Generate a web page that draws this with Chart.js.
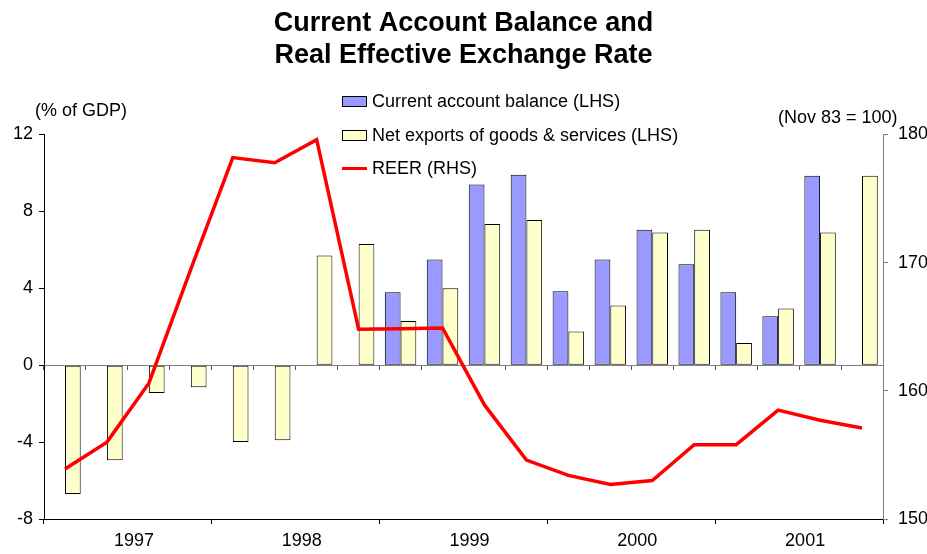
<!DOCTYPE html>
<html>
<head>
<meta charset="utf-8">
<script src="https://cdn.jsdelivr.net/npm/chart.js@4.4.1/dist/chart.umd.min.js"></script>
<style>
  body { margin: 0; background: #fff; }
  #wrap { position: relative; width: 927px; height: 554px; font-family: 'Liberation Sans', Arial, sans-serif; }
  .note { position: absolute; font-size: 18px; line-height: 20px; color: #000; white-space: nowrap; }
  #legend { position: absolute; left: 342px; top: 85px; font-size: 18px; color: #000; }
  .row { display: flex; align-items: center; height: 33.5px; white-space: nowrap; }
  .key { width: 25px; height: 11px; margin-right: 5px; box-sizing: border-box; }
</style>
</head>
<body>
<div id="wrap">
  <canvas id="chart" width="927" height="554"></canvas>
  <div class="note" style="left:35px; top:100px;">(% of GDP)</div>
  <div class="note" style="left:778px; top:107px;">(Nov 83 = 100)</div>
  <div id="legend"></div>
</div>
<script>
const quarters = [
  '1997 Q1', '1997 Q2', '1997 Q3', '1997 Q4',
  '1998 Q1', '1998 Q2', '1998 Q3', '1998 Q4',
  '1999 Q1', '1999 Q2', '1999 Q3', '1999 Q4',
  '2000 Q1', '2000 Q2', '2000 Q3', '2000 Q4',
  '2001 Q1', '2001 Q2', '2001 Q3', '2001 Q4'
];
const years = ['1997', '1998', '1999', '2000', '2001'];

// % of GDP, left axis
const currentAccount = [null, null, null, null, null, null, null, null,
  3.8, 5.5, 9.4, 9.9, 3.85, 5.5, 7.05, 5.25, 3.8, 2.55, 9.85, null];
const netExports = [-6.7, -4.95, -1.45, -1.15, -4.0, -3.9, 5.7, 6.3,
  2.3, 4.0, 7.35, 7.55, 1.75, 3.1, 6.9, 7.05, 1.15, 2.95, 6.9, 9.85];

// Nov 83 = 100, right axis
const reer = [153.9, 156.0, 160.6, 169.5, 178.2, 177.8, 179.6, 164.8, 164.85, 164.9,
  158.9, 154.6, 153.4, 152.7, 153.0, 155.8, 155.8, 158.5, 157.7, 157.1];

const font = { family: "'Liberation Sans', Arial, sans-serif", size: 18 };

const chart = new Chart(document.getElementById('chart'), {
  type: 'bar',
  data: {
    labels: quarters,
    datasets: [
      {
        label: 'Current account balance (LHS)',
        data: currentAccount,
        backgroundColor: '#9999FF',
        borderColor: '#000',
        borderWidth: 1,
        borderSkipped: false,
        yAxisID: 'y',
        order: 1
      },
      {
        label: 'Net exports of goods & services (LHS)',
        data: netExports,
        backgroundColor: '#FFFFCC',
        borderColor: '#000',
        borderWidth: 1,
        borderSkipped: false,
        yAxisID: 'y',
        order: 1
      },
      {
        type: 'line',
        label: 'REER (RHS)',
        data: reer,
        borderColor: '#FF0000',
        backgroundColor: '#FF0000',
        borderWidth: 3.5,
        pointRadius: 0,
        tension: 0,
        yAxisID: 'y1',
        order: 0
      }
    ]
  },
  options: {
    responsive: false,
    animation: false,
    events: [],
    layout: { padding: { top: 0, bottom: 0, left: 0, right: 0 } },
    datasets: { bar: { categoryPercentage: 0.75, barPercentage: 1.0 } },
    plugins: {
      legend: { display: false },
      tooltip: { enabled: false },
      title: {
        display: true,
        text: ['Current Account Balance and', 'Real Effective Exchange Rate'],
        color: '#000',
        font: { family: font.family, size: 27, weight: 'bold', lineHeight: 1.185 },
        padding: { top: 8, bottom: 62.5 }
      }
    },
    scales: {
      x: {
        type: 'category',
        offset: true,
        grid: {
          offset: true,
          drawOnChartArea: false,
          tickLength: 5,
          tickColor: ctx => (ctx.index === undefined || ctx.index % 4 === 0) ? '#000' : 'rgba(0,0,0,0)'
        },
        border: { color: '#000', width: 1 },
        ticks: {
          color: '#000',
          font: font,
          autoSkip: false,
          maxRotation: 0,
          padding: 6,
          labelOffset: 27,
          callback: (v, i) => i % 4 === 1 ? years[Math.floor(i / 4)] : ''
        },
        afterFit: s => { s.height = 35; }
      },
      // category axis along the zero line
      x2: {
        type: 'category',
        position: { y: 0 },
        offset: true,
        grid: { offset: true, drawOnChartArea: false, tickLength: 4, tickColor: '#555' },
        border: { color: '#808080', width: 1 },
        ticks: { display: false }
      },
      y: {
        position: 'left',
        min: -8,
        max: 12,
        ticks: { stepSize: 4, color: '#000', font: font, padding: 6 },
        grid: { drawOnChartArea: false, tickLength: 5, tickColor: '#000' },
        border: { color: '#000', width: 1 },
        afterFit: s => { s.width = 44; }
      },
      y1: {
        position: 'right',
        min: 150,
        max: 180,
        ticks: { stepSize: 10, color: '#000', font: font, padding: 10 },
        grid: { drawOnChartArea: false, tickLength: 5, tickColor: '#808080' },
        border: { color: '#808080', width: 1 },
        afterFit: s => { s.width = 44; }
      }
    }
  }
});

// legend drawn from the chart's own datasets
const legend = document.getElementById('legend');
chart.data.datasets.forEach(ds => {
  const row = document.createElement('div');
  row.className = 'row';
  const key = document.createElement('div');
  key.className = 'key';
  if (ds.type === 'line') {
    key.style.height = '3px';
    key.style.background = ds.borderColor;
  } else {
    key.style.background = ds.backgroundColor;
    key.style.border = '1px solid #000';
  }
  const txt = document.createElement('span');
  txt.textContent = ds.label;
  row.appendChild(key);
  row.appendChild(txt);
  legend.appendChild(row);
});
</script>
</body>
</html>
